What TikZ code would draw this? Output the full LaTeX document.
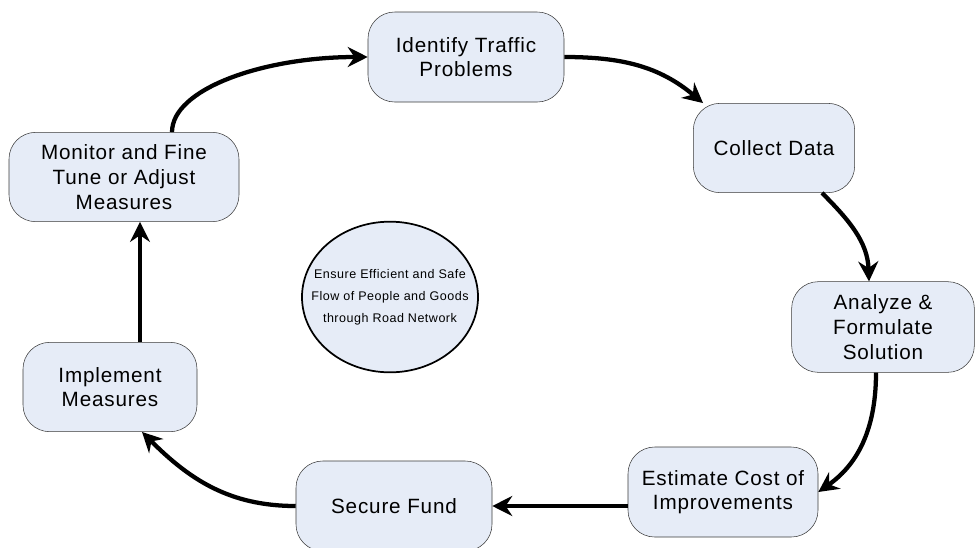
\documentclass[tikz,border=0pt]{standalone}
\usepackage{fontspec}
\setmainfont{Liberation Sans}[LetterSpace=4]
\usetikzlibrary{arrows.meta,positioning,calc,shapes.geometric}
\definecolor{boxfill}{HTML}{E6ECF7}
\definecolor{boxline}{HTML}{3A3A3A}

\begin{document}
\begin{tikzpicture}[x=0.75pt,y=0.75pt,
  stage/.style={draw=boxline,fill=boxfill,rounded corners=20pt,align=center,
    font=\fontsize{15.5}{18.5}\selectfont,inner sep=0pt},
  goal/.style={ellipse,draw=black,line width=1.3pt,fill=boxfill,align=center,
    font=\fontsize{9.4}{16.5}\selectfont,inner xsep=-14pt,inner ysep=0pt},
  flow/.style={line width=3.2pt,-{Stealth[length=15pt,width=15pt,inset=5pt]}}]
  \useasboundingbox (0,0) rectangle (977,-547);

  % the cycle of stages
  \node[stage,minimum width=147pt,minimum height=67.5pt] (ident) at (466,-57) {Identify Traffic\\Problems};
  \node[stage,minimum width=121pt,minimum height=67pt] (collect) at (774,-148) {Collect Data};
  \node[stage,minimum width=137pt,minimum height=68pt] (analyze) at (883,-327) {Analyze \&\\Formulate\\Solution};
  \node[stage,minimum width=142.5pt,minimum height=67.5pt] (estimate) at (723,-492) {Estimate Cost of\\Improvements};
  \node[stage,minimum width=147pt,minimum height=67.5pt] (fund) at (394,-506) {Secure Fund};
  \node[stage,minimum width=130.5pt,minimum height=67pt] (implement) at (110,-387) {Implement\\Measures};
  \node[stage,minimum width=172.5pt,minimum height=67pt] (monitor) at (124,-177) {Monitor and Fine\\Tune or Adjust\\Measures};

  % the aim in the middle
  \node[goal,minimum width=132pt,minimum height=113pt] (aim) at (390,-297) {Ensure Efficient and Safe\\Flow of People and Goods\\through Road Network};

  % connectors
  \draw[flow] ($(monitor.north)+(48,0)$) .. controls +(0,43) and +(-105,0) .. (ident.west);
  \draw[flow] (ident.east) to[out=0,in=140] ($(collect.north west)+(10,0)$);
  \draw[flow] ($(collect.south)+(48,0)$) to[out=-45,in=92] ($(analyze.north)+(-14,0)$);
  \draw[flow] ($(analyze.south)+(-7,0)$) to[out=-90,in=35] (estimate.east);
  \draw[flow] (estimate.west |- fund.east) -- (fund.east);
  \draw[flow] (fund.west) to[out=180,in=-45] ($(implement.south)+(32,0)$);
  \draw[flow] ($(implement.north)+(30,0)$) coordinate (up) -- (up |- monitor.south);
\end{tikzpicture}
\end{document}
